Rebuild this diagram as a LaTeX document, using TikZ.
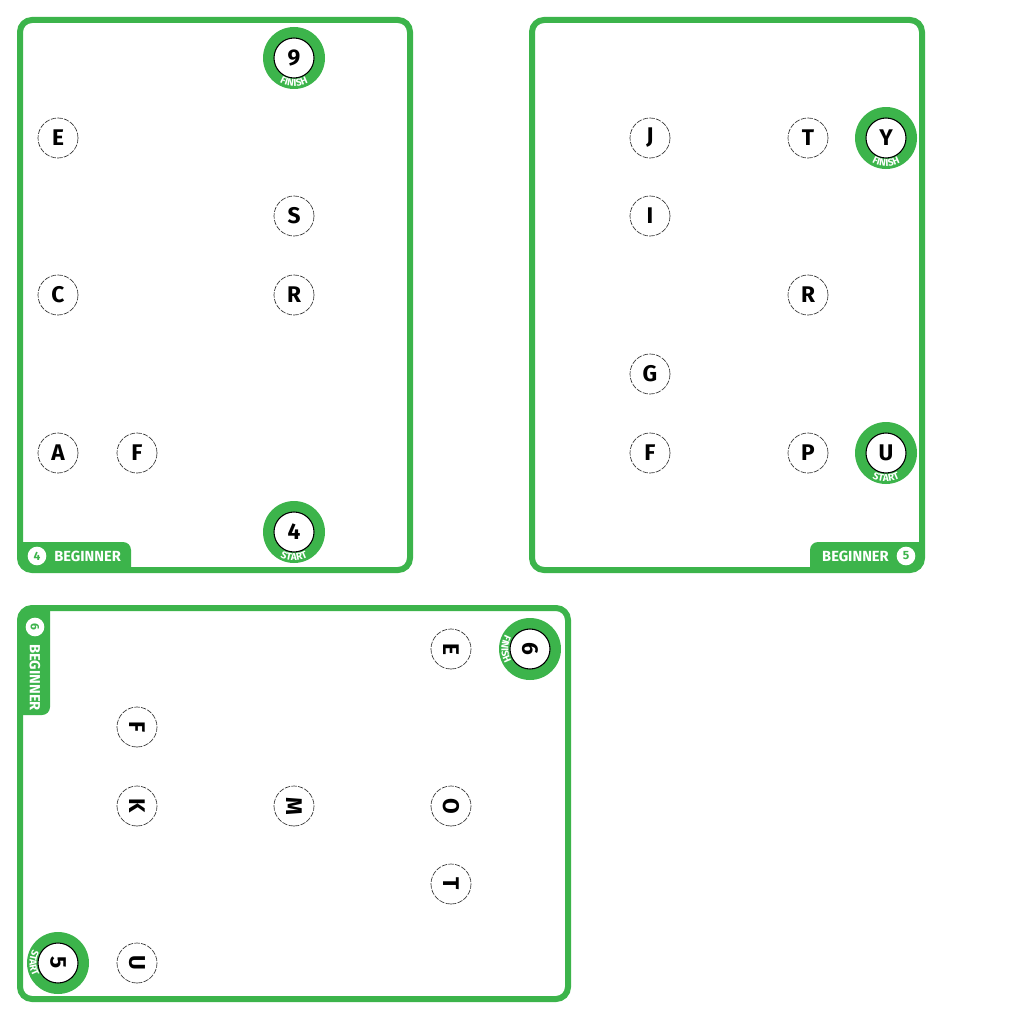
\documentclass[tikz,border=0pt]{standalone}
\usepackage{fontspec}
\setmainfont{Fira Sans}
\usetikzlibrary{decorations.text}
\definecolor{brandgreen}{RGB}{60,180,75}
\tikzset{
  card/.style={draw=brandgreen, line width=4.5pt, rounded corners=9pt},
  letter/.style={circle, draw=black!80, line width=0.5pt, dash pattern=on 4pt off 1pt, fill=white, minimum size=30pt, inner sep=0pt, font=\fontsize{17}{17}\selectfont\bfseries},
  ringnum/.style={circle, draw=black, line width=0.8pt, fill=white, minimum size=30pt, inner sep=0pt, font=\fontsize{17}{17}\selectfont\bfseries},
  ringback/.style={circle, fill=brandgreen, minimum size=46.5pt, inner sep=0pt},
  tabtext/.style={text=white, inner sep=0pt, font=\fontsize{11}{11}\selectfont\bfseries},
  tabnum/.style={circle, fill=white, text=brandgreen, minimum size=14pt, inner sep=0pt, font=\fontsize{9}{9}\selectfont\bfseries},
  tabfill/.style={fill=brandgreen},
}
% name, x, y, number, label, start angle, end angle, rotation
\newcommand\goalring[8]{%
  \node[ringback] (#1b) at (#2,-#3) {};
  \node[ringnum, rotate=#8] (#1) at (#2,-#3) {#4};
  \path[decorate, decoration={text along path, text={|\fontsize{7.5}{8}\selectfont\bfseries\color{white}|#5}, text align=center}]
    ([shift={(#6:28.5)}]#2,-#3) arc[start angle=#6, end angle=#7, radius=28.5];
}
\begin{document}
\begin{tikzpicture}[x=0.75pt, y=0.75pt]
\useasboundingbox (0,0) rectangle (1024,-1024);
\fill[white] (0,0) rectangle (1024,-1024);

% ---------- Card 1 ----------
\fill[tabfill] (23,-567) -- (23,-542) -- (123,-542) arc[start angle=90, end angle=0, radius=8] -- (131,-567) -- cycle;
\draw[card] (20,-20) rectangle (410,-570);
\node[tabnum] (t4) at (37,-556) {4};
\node[tabtext, anchor=west] (b1) at (54,-556) {BEGINNER};
\goalring{g9}{294}{58}{9}{FINISH}{225}{315}{0}
\goalring{s4}{294}{532}{4}{START}{225}{315}{0}
\node[letter] (c1e) at (58,-138) {E};
\node[letter] (c1s) at (294,-216) {S};
\node[letter] (c1c) at (58,-295) {C};
\node[letter] (c1r) at (294,-295) {R};
\node[letter] (c1a) at (58,-453) {A};
\node[letter] (c1f) at (137,-453) {F};

% ---------- Card 2 ----------
\fill[tabfill] (919,-567) -- (919,-542) -- (818,-542) arc[start angle=90, end angle=180, radius=8] -- (810,-567) -- cycle;
\draw[card] (532,-20) rectangle (922,-570);
\node[tabnum] (t5) at (906,-556) {5};
\node[tabtext, anchor=east] (b2) at (889,-556) {BEGINNER};
\goalring{gy}{886}{138}{Y}{FINISH}{225}{315}{0}
\goalring{su}{886}{453}{U}{START}{225}{315}{0}
\node[letter] (c2j) at (650,-138) {J};
\node[letter] (c2t) at (808,-138) {T};
\node[letter] (c2i) at (650,-216) {I};
\node[letter] (c2r) at (808,-295) {R};
\node[letter] (c2g) at (650,-374) {G};
\node[letter] (c2f) at (650,-453) {F};
\node[letter] (c2p) at (808,-453) {P};

% ---------- Card 3 (rotated) ----------
\fill[tabfill] (23,-611) -- (50,-611) -- (50,-707) arc[start angle=0, end angle=-90, radius=8] -- (23,-715) -- cycle;
\draw[card] (20,-608) rectangle (568,-999);
\node[tabnum, rotate=-90] (t6) at (35,-627) {6};
\node[tabtext, rotate=-90, anchor=west] (b3) at (35,-644) {BEGINNER};
\goalring{g6}{530}{649}{6}{FINISH}{135}{225}{-90}
\goalring{s5}{58}{963}{5}{START}{135}{225}{-90}
\node[letter, rotate=-90] (c3e) at (451,-649) {E};
\node[letter, rotate=-90] (c3f) at (137,-727) {F};
\node[letter, rotate=-90] (c3k) at (137,-806) {K};
\node[letter, rotate=-90] (c3m) at (294,-806) {M};
\node[letter, rotate=-90] (c3o) at (451,-806) {O};
\node[letter, rotate=-90] (c3t) at (451,-884) {T};
\node[letter, rotate=-90] (c3u) at (137,-963) {U};
\end{tikzpicture}
\end{document}
